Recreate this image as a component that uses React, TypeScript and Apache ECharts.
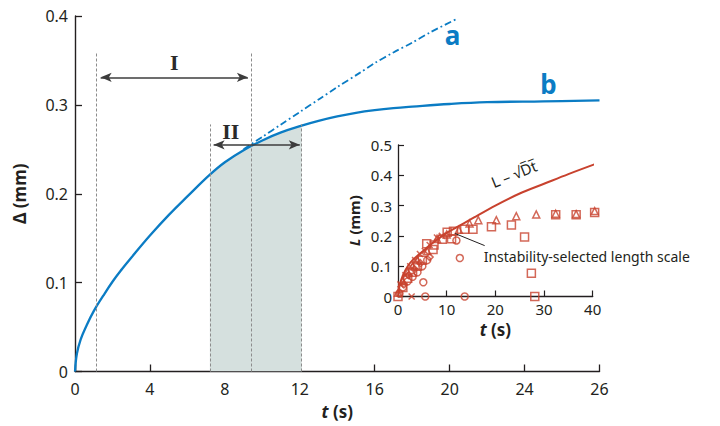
import React, { useEffect, useRef } from "react";
import * as echarts from "echarts";

// ---- main panel: interface amplitude Δ (mm) versus time t (s) ----
const MAIN_T_TICK_LABELS = ["0", "4", "8", "12", "16", "20", "24", "26"];

// curve b (solid)
const B_T = [0, 0.1, 0.3, 0.6, 1, 1.5, 2, 2.5, 3, 4, 5, 6, 7.2, 8, 9, 10, 11, 12.1, 13, 14, 15, 16, 17, 18, 20, 22, 25, 28];
const B_V = [0, 0.02, 0.036, 0.051, 0.068, 0.085, 0.101, 0.115, 0.128, 0.153, 0.176, 0.197, 0.2215, 0.2355, 0.249, 0.26, 0.269, 0.2766, 0.282, 0.287, 0.291, 0.294, 0.2963, 0.298, 0.301, 0.303, 0.304, 0.305];

// curve a (dash-dot continuation)
const A_T = [9.0, 10, 11, 12, 13.07, 14, 15.2, 16, 17, 18, 19, 20.4];
const A_V = [0.25, 0.264, 0.278, 0.292, 0.307, 0.32, 0.336, 0.347, 0.359, 0.37, 0.382, 0.397];

// regime boundaries (vertical dashed guides): [t, top]
const GUIDES = [
  [1.16, 0.358],
  [9.4, 0.358],
  [7.2, 0.278],
  [12.1, 0.278],
];
const SHADE_FROM = 7.2;
const SHADE_TO = 12.1;

// double arrows: [t0, t1, level]
const ARROW_I = [1.37, 9.23, 0.331];
const ARROW_II = [7.4, 12.0, 0.255];

// ---- inset: length scale L (mm) versus t (s) ----
const INSET_FIT_T = [0, 0.3, 1, 2, 3, 5, 7, 10, 12, 15, 20, 25, 30, 35, 41];
const INSET_FIT_V = [0, 0.035, 0.07, 0.1, 0.12, 0.148, 0.175, 0.21, 0.228, 0.255, 0.3, 0.34, 0.372, 0.404, 0.44];

const SQUARES = [
  [0, 0], [1.0, 0.03], [2.0, 0.06], [3.0, 0.08], [4.0, 0.1], [5.0, 0.12], [5.9, 0.174], [7.2, 0.155],
  [7.4, 0.17], [9.1, 0.189], [10.1, 0.212], [11.0, 0.191], [11.4, 0.215], [13.7, 0.222], [15.4, 0.222],
  [19.2, 0.23], [23.3, 0.236], [26.0, 0.196], [27.4, 0.077], [28.1, 0], [32.4, 0.27], [36.6, 0.27], [40.4, 0.277],
];
const TRIANGLES = [
  [0, 0.012], [1, 0.05], [2, 0.08], [3, 0.1], [4, 0.12], [6, 0.15], [8, 0.19], [10, 0.205], [12.5, 0.22],
  [14.7, 0.241], [16.5, 0.252], [20.2, 0.252], [24.3, 0.265], [28.4, 0.271], [32.4, 0.273], [36.6, 0.272], [40.4, 0.282],
];
const CROSSES = [
  [0.5, 0.04], [1.5, 0.07], [2.5, 0.1], [3.5, 0.12], [4.5, 0.14], [5.5, 0.15], [6.5, 0.17], [8, 0.195], [9, 0.2], [2.8, 0],
];
const CIRCLES = [
  [0.3, 0.01], [1, 0.03], [2, 0.05], [3, 0.065], [4, 0.08], [5, 0.1], [5.2, 0.047], [5.6, 0], [6, 0.12],
  [12, 0.185], [12.7, 0.127], [13.7, 0],
];
const DIAMONDS = [[1.2, 0.04], [2.2, 0.07], [3.4, 0.09], [4.6, 0.11], [6.5, 0.13]];

const BLUE = "#0b7cc4";
const RED = "#c8422e";
const INK = "#231f20";
const FONT = "'Noto Sans', 'Open Sans', sans-serif";
const SERIF = "'Liberation Serif', 'DejaVu Serif', serif";

const zip = (ts: number[], vs: number[]) => ts.map((t, i) => [t, vs[i]]);

export default function App() {
  const ref = useRef<HTMLDivElement>(null);

  useEffect(() => {
    if (!ref.current) return;
    const chart = echarts.init(ref.current, undefined, { renderer: "svg" });

    const bData = zip(B_T, B_V);
    const shade = bData.filter(([t]) => t >= SHADE_FROM - 1e-9 && t <= SHADE_TO + 1e-9);

    const markerBase = {
      type: "scatter",
      xAxisIndex: 1,
      yAxisIndex: 1,
      clip: false,
      symbolSize: 7,
      itemStyle: { color: "rgba(255,255,255,0)", borderColor: RED, borderWidth: 1.5 },
      z: 4,
    };

    const boldRich = (size: number) => ({
      fontSize: size,
      fontWeight: "bold",
      color: INK,
      fontFamily: FONT,
      rich: { i: { fontStyle: "italic", fontWeight: "bold", fontSize: size, fontFamily: FONT, color: INK } },
    });

    const option: any = {
      animation: false,
      backgroundColor: "#ffffff",
      textStyle: { fontFamily: FONT, color: INK },
      grid: [
        { left: 75, top: 16, width: 524.5, height: 355.5 },
        { left: 398, top: 145, width: 194.7, height: 151.5 },
      ],
      xAxis: [
        {
          type: "value",
          gridIndex: 0,
          min: 0,
          max: 28,
          interval: 4,
          name: "{i|t} (s)",
          nameLocation: "middle",
          nameGap: 31,
          nameTextStyle: boldRich(17),
          axisLine: { lineStyle: { color: INK, width: 1.4 } },
          axisTick: { inside: true, length: 7, lineStyle: { color: INK, width: 1.3 } },
          axisLabel: {
            fontSize: 16,
            color: INK,
            margin: 9,
            formatter: (v: number) => MAIN_T_TICK_LABELS[Math.round(v / 4)] ?? "",
          },
          splitLine: { show: false },
        },
        {
          type: "value",
          gridIndex: 1,
          min: 0,
          max: 40,
          interval: 10,
          name: "{i|t} (s)",
          nameLocation: "middle",
          nameGap: 24,
          nameTextStyle: boldRich(17),
          axisLine: { lineStyle: { color: INK, width: 1.3 } },
          axisTick: { inside: true, length: 6, lineStyle: { color: INK, width: 1.2 } },
          axisLabel: { fontSize: 15, color: INK, margin: 5 },
          splitLine: { show: false },
        },
      ],
      yAxis: [
        {
          type: "value",
          gridIndex: 0,
          min: 0,
          max: 0.4,
          interval: 0.1,
          name: "Δ (mm)",
          nameLocation: "middle",
          nameGap: 47,
          nameTextStyle: { fontSize: 17, fontWeight: "bold", color: INK, fontFamily: FONT },
          axisLine: { show: true, lineStyle: { color: INK, width: 1.4 } },
          axisTick: { show: true, inside: true, length: 7, lineStyle: { color: INK, width: 1.3 } },
          axisLabel: { fontSize: 16, color: INK, margin: 7 },
          splitLine: { show: false },
        },
        {
          type: "value",
          gridIndex: 1,
          min: 0,
          max: 0.5,
          interval: 0.1,
          name: "{i|L} (mm)",
          nameLocation: "middle",
          nameGap: 37,
          nameTextStyle: boldRich(15),
          axisLine: { show: true, lineStyle: { color: INK, width: 1.3 } },
          axisTick: { show: true, inside: true, length: 6, lineStyle: { color: INK, width: 1.2 } },
          axisLabel: { fontSize: 15, color: INK, margin: 6 },
          splitLine: { show: false },
        },
      ],
      series: [
        {
          // shaded regime II under curve b
          type: "line",
          xAxisIndex: 0,
          yAxisIndex: 0,
          data: shade,
          smooth: 0.4,
          showSymbol: false,
          lineStyle: { width: 0 },
          areaStyle: { color: "#d5e0de", opacity: 1 },
          z: 1,
          silent: true,
        },
        {
          // guides, arrows and regime labels
          type: "line",
          xAxisIndex: 0,
          yAxisIndex: 0,
          data: [],
          z: 3,
          markLine: {
            silent: true,
            animation: false,
            label: { show: false },
            data: [
              ...GUIDES.map(([t, top]) => [
                { coord: [t, 0], symbol: "none", lineStyle: { color: "#8c8c8c", width: 1, type: [3, 2] } },
                { coord: [t, top], symbol: "none" },
              ]),
              ...[ARROW_I, ARROW_II].map(([t0, t1, lv]) => [
                { coord: [t0, lv], symbol: "arrow", symbolSize: [7, 11], lineStyle: { color: "#3c3c3c", width: 1.6, type: "solid" } },
                { coord: [t1, lv], symbol: "arrow", symbolSize: [7, 11] },
              ]),
            ],
          },
          markPoint: {
            silent: true,
            symbol: "circle",
            symbolSize: 1,
            itemStyle: { color: "rgba(0,0,0,0)" },
            label: { show: true, position: "inside", formatter: "{b}" },
            data: [
              { name: "I", coord: [5.3, 0.348], label: { fontFamily: SERIF, fontWeight: "bold", fontSize: 22, color: "#2a2a2a" } },
              { name: "II", coord: [8.32, 0.2705], label: { fontFamily: SERIF, fontWeight: "bold", fontSize: 22, color: "#2a2a2a" } },
              { name: "a", coord: [20.16, 0.379], label: { fontFamily: FONT, fontWeight: "bold", fontSize: 26, color: BLUE } },
              { name: "b", coord: [25.28, 0.324], label: { fontFamily: FONT, fontWeight: "bold", fontSize: 26, color: BLUE } },
            ],
          },
        },
        {
          name: "a",
          type: "line",
          xAxisIndex: 0,
          yAxisIndex: 0,
          data: zip(A_T, A_V),
          smooth: 0.3,
          showSymbol: false,
          lineStyle: { color: BLUE, width: 1.8, type: [7, 3, 1.8, 3] },
          z: 2,
        },
        {
          name: "b",
          type: "line",
          xAxisIndex: 0,
          yAxisIndex: 0,
          data: bData,
          smooth: 0.4,
          showSymbol: false,
          lineStyle: { color: BLUE, width: 2.3 },
          z: 2,
        },
        // inset
        {
          type: "line",
          xAxisIndex: 1,
          yAxisIndex: 1,
          data: zip(INSET_FIT_T, INSET_FIT_V),
          smooth: 0.3,
          showSymbol: false,
          clip: false,
          lineStyle: { color: RED, width: 2 },
          z: 5,
          markLine: {
            silent: true,
            symbol: "none",
            label: { show: false },
            lineStyle: { color: INK, width: 1, type: "solid" },
            data: [[{ coord: [11.7, 0.208] }, { coord: [17.8, 0.168] }]],
          },
          markPoint: {
            silent: true,
            symbol: "circle",
            symbolSize: 1,
            itemStyle: { color: "rgba(0,0,0,0)" },
            data: [
              {
                name: "L – √D\u0305t\u0305",
                coord: [23.8, 0.405],
                label: { show: true, position: "inside", formatter: "{b}", rotate: 22, fontSize: 15, color: INK, fontFamily: FONT },
              },
              {
                name: "Instability-selected length scale",
                coord: [17.5, 0.132],
                label: { show: true, position: "right", distance: 0, formatter: "{b}", fontSize: 14, color: INK, fontFamily: FONT },
              },
            ],
          },
        },
        { ...markerBase, symbol: "rect", symbolSize: 8, data: SQUARES },
        { ...markerBase, symbol: "triangle", symbolSize: 7, data: TRIANGLES },
        { ...markerBase, symbol: "circle", symbolSize: 7, data: CIRCLES },
        { ...markerBase, symbol: "diamond", symbolSize: 7, data: DIAMONDS },
        {
          ...markerBase,
          symbol: "path://M0,0L10,10M10,0L0,10",
          symbolSize: 6,
          itemStyle: { color: "rgba(255,255,255,0)", borderColor: RED, borderWidth: 1.5 },
          data: CROSSES,
        },
      ],
    };

    chart.setOption(option);
    return () => chart.dispose();
  }, []);

  return <div ref={ref} style={{ width: 720, height: 426, position: "absolute", left: 0, top: 0 }} />;
}
